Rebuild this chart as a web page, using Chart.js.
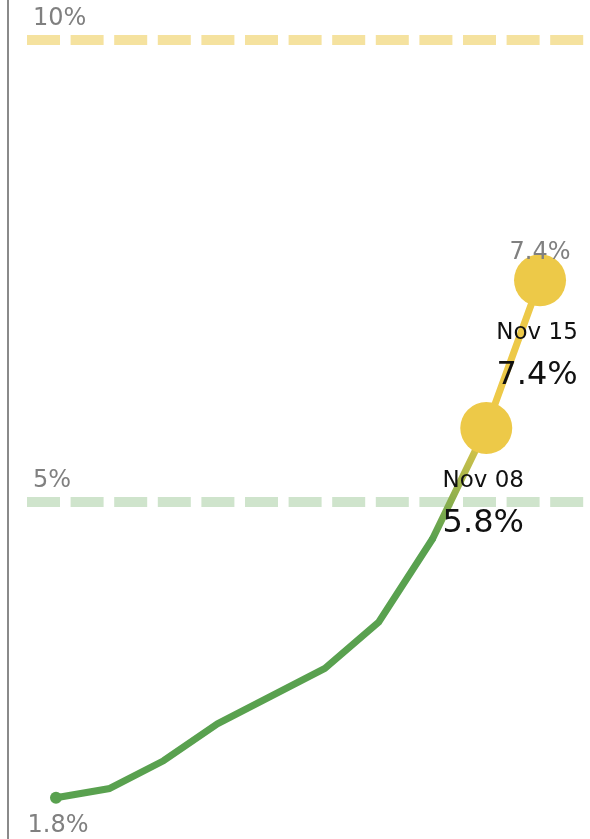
<!DOCTYPE html>
<html>
<head>
<meta charset="utf-8">
<script src="https://cdn.jsdelivr.net/npm/chart.js@4/dist/chart.umd.min.js"></script>
<style>
  html, body { margin: 0; padding: 0; background: #fff; overflow: hidden; }
  canvas { display: block; }
</style>
</head>
<body>
<canvas id="rateChart" width="590" height="839"></canvas>
<script>
// weekly positivity rate
const weeks = ['Sep 13', 'Sep 20', 'Sep 27', 'Oct 04', 'Oct 11', 'Oct 18', 'Oct 25', 'Nov 01', 'Nov 08', 'Nov 15'];
const rates = [1.8, 1.9, 2.2, 2.6, 2.9, 3.2, 3.7, 4.6, 5.8, 7.4];
const refLines = [10, 5];
const refLabels = ['10%', '5%'];
const refColors = ['#f5e29f', '#cfe4cc'];
const threshold = 5;

const green = '#59a14f';
const yellow = '#edc948';
const greyText = '#808080';
const font = '"DejaVu Sans", sans-serif';

function colorFor(v) {
  return v > threshold ? yellow : green;
}

const points = rates.map((v, i) => ({ x: i, y: v }));
const lastIdx = rates.length - 1;

const overlay = {
  id: 'overlay',
  beforeDatasetsDraw(chart) {
    const { ctx, scales } = chart;
    const y = scales.y;
    ctx.save();
    // axis line on the left
    ctx.strokeStyle = '#8a8a8a';
    ctx.lineWidth = 2;
    ctx.beginPath();
    ctx.moveTo(8, 0);
    ctx.lineTo(8, chart.height);
    ctx.stroke();
    // reference lines
    refLines.forEach((v, k) => {
      const py = y.getPixelForValue(v);
      ctx.strokeStyle = refColors[k];
      ctx.lineWidth = 10;
      ctx.setLineDash([33, 10.6]);
      ctx.beginPath();
      ctx.moveTo(27, py);
      ctx.lineTo(584, py);
      ctx.stroke();
      ctx.setLineDash([]);
      ctx.fillStyle = greyText;
      ctx.font = '24px ' + font;
      ctx.textAlign = 'left';
      ctx.textBaseline = 'alphabetic';
      ctx.fillText(refLabels[k], 33, py - 15);
    });
    ctx.restore();
  },
  afterDatasetsDraw(chart) {
    const { ctx } = chart;
    const meta = chart.getDatasetMeta(0).data;
    ctx.save();
    ctx.textBaseline = 'alphabetic';
    ctx.textAlign = 'center';
    // first / last value labels
    ctx.fillStyle = greyText;
    ctx.font = '24px ' + font;
    ctx.fillText(rates[0].toFixed(1) + '%', meta[0].x + 2, meta[0].y + 34);
    ctx.fillText(rates[lastIdx].toFixed(1) + '%', meta[lastIdx].x, meta[lastIdx].y - 21);
    // callouts for the last two weeks
    [lastIdx - 1, lastIdx].forEach((i) => {
      const p = meta[i];
      ctx.fillStyle = '#111';
      ctx.font = '23px ' + font;
      ctx.fillText(weeks[i], p.x - 3, p.y + 59);
      ctx.font = '32px ' + font;
      ctx.fillText(rates[i].toFixed(1) + '%', p.x - 3, p.y + 104);
    });
    ctx.restore();
  },
};

const ctx = document.getElementById('rateChart').getContext('2d');
new Chart(ctx, {
  type: 'line',
  data: {
    labels: weeks,
    datasets: [
      {
        data: points,
        borderWidth: 7,
        borderColor: green,
        borderCapStyle: 'round',
        borderJoinStyle: 'round',
        tension: 0,
        pointRadius: rates.map((v, i) => (i === 0 ? 6 : i >= lastIdx - 1 ? 26 : 0)),
        pointBackgroundColor: rates.map(colorFor),
        pointBorderWidth: 0,
        segment: {
          borderColor: (c) => {
            const c0 = colorFor(c.p0.parsed.y);
            const c1 = colorFor(c.p1.parsed.y);
            if (c0 === c1) return c0;
            const g = c.chart.ctx.createLinearGradient(c.p0.x, c.p0.y, c.p1.x, c.p1.y);
            g.addColorStop(0, c0);
            g.addColorStop(1, c1);
            return g;
          },
        },
      },
    ],
  },
  options: {
    responsive: false,
    animation: false,
    devicePixelRatio: 1,
    layout: { padding: 0, autoPadding: false },
    clip: false,
    plugins: { legend: { display: false }, tooltip: { enabled: false } },
    scales: {
      x: { type: 'linear', display: false, min: -1.041, max: 9.929 },
      y: { display: false, min: 1.353, max: 10.433 },
    },
  },
  plugins: [overlay],
});
</script>
</body>
</html>
